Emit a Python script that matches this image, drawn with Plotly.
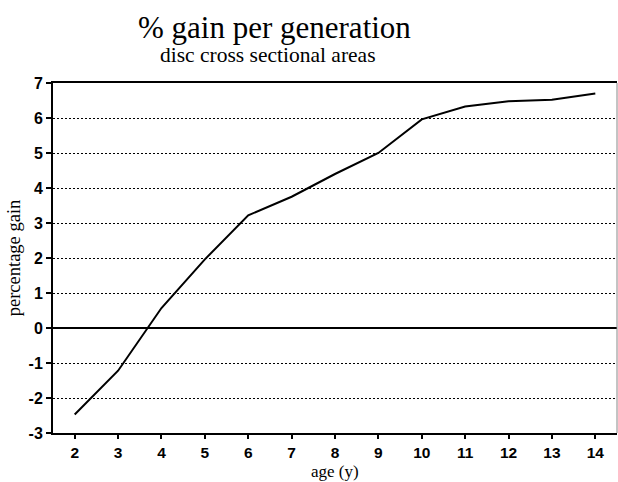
import plotly.graph_objects as go

# Age in years and percentage gain per generation
ages = [2, 3, 4, 5, 6, 7, 8, 9, 10, 11, 12, 13, 14]
gain = [-2.47, -1.22, 0.57, 1.96, 3.22, 3.75, 4.4, 5.0, 5.96, 6.33, 6.48, 6.52, 6.7]

x_ticks = list(range(2, 15))
y_ticks = list(range(-3, 8))
y_labels = [str(v).replace("\u2212", "-") for v in y_ticks]

fig = go.Figure()
fig.add_trace(go.Scatter(x=ages, y=gain, mode="lines",
                         line=dict(color="black", width=2), showlegend=False))

tick_font = dict(family="Liberation Sans", size=16, color="black", weight="bold")
serif = "Liberation Serif, Times New Roman, serif"

fig.update_layout(
    width=618, height=482,
    margin=dict(l=53, r=1, t=83, b=49),
    paper_bgcolor="white", plot_bgcolor="white",
    xaxis=dict(range=[1.5, 14.5], tickvals=x_ticks, ticks="outside", ticklen=4,
               tickwidth=1.5, tickcolor="black", showgrid=False, zeroline=False,
               showline=True, linecolor="black", linewidth=2, mirror=True,
               tickfont=dict(family="Liberation Sans", size=15.5, color="black", weight="bold")),
    yaxis=dict(range=[-3, 7], tickvals=y_ticks, ticktext=y_labels, ticks="outside",
               ticklen=5, tickwidth=1.5, tickcolor="black",
               showgrid=True, gridcolor="black", gridwidth=1.3, griddash="2px,2px",
               zeroline=True, zerolinecolor="black", zerolinewidth=2,
               showline=True, linecolor="black", linewidth=2,
               tickfont=tick_font,
               title=dict(text="percentage gain", font=dict(family=serif, size=18.5, color="black"),
                          standoff=3)),
    annotations=[
        dict(text="% gain per generation", x=0.392, y=1.0, xref="paper", yref="paper",
             yshift=75, xanchor="center", yanchor="top", showarrow=False,
             font=dict(family=serif, size=31, color="black")),
        dict(text="disc cross sectional areas", x=0.381, y=1.0, xref="paper", yref="paper",
             yshift=42, xanchor="center", yanchor="top", showarrow=False,
             font=dict(family=serif, size=21.5, color="black")),
        dict(text="age (y)", x=0.5, y=0, xref="paper", yref="paper",
             yshift=-49, xanchor="center", yanchor="bottom", showarrow=False,
             borderpad=0, font=dict(family=serif, size=17, color="black")),
    ],
    shapes=[dict(type="line", xref="paper", yref="paper", x0=1, x1=1, y0=0, y1=1,
                 line=dict(color="#888888", width=1))],
)

fig.write_html("out.html")
